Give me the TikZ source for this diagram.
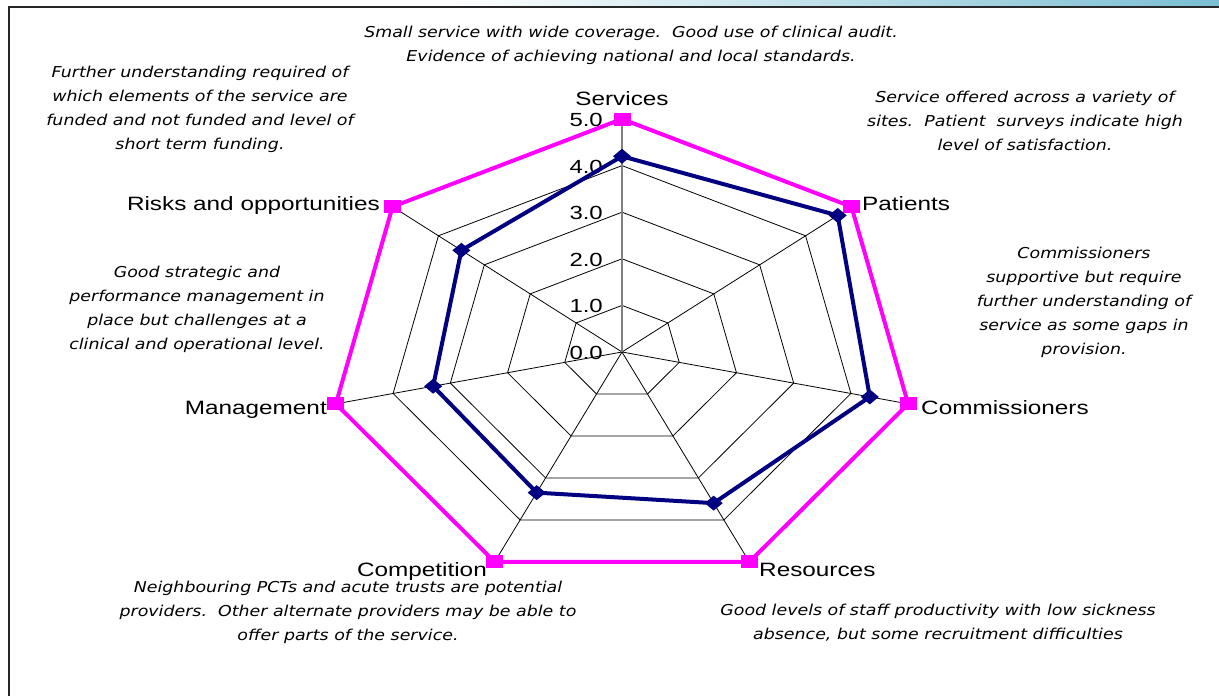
\documentclass[tikz,border=0pt]{standalone}
\usepackage{fontspec}
\newfontfamily\lab[FakeStretch=1.26]{Liberation Sans}
\newfontfamily\ann[FakeStretch=1.16]{DejaVu Sans}
\definecolor{pinkline}{RGB}{255,0,255}
\definecolor{navyline}{RGB}{0,0,128}
\definecolor{bandblue}{RGB}{122,190,210}
\begin{document}
\begin{tikzpicture}[x=1pt,y=-1pt,
  lab/.style={font=\lab\fontsize{19.3}{22}\selectfont, inner sep=0pt},
  num/.style={font=\lab\fontsize{19}{22}\selectfont, inner sep=0pt, anchor=east},
  note/.style={font=\ann\itshape\fontsize{15}{24}\selectfont, align=center, inner sep=0pt},
  gridline/.style={black, line width=0.8pt},
  pinkpoly/.style={pinkline, line width=4pt, line join=miter},
  bluepoly/.style={navyline, line width=4pt, line join=round}]
\useasboundingbox (0,0) rectangle (1219,696);
% top band and frame
\shade[left color=white, right color=bandblue] (450,0) rectangle (1219,6);
\draw[black!85, line width=2pt] (1219,7) -- (9,7) -- (9,696);
% chart geometry
\begin{scope}[shift={(622,352)}, x=58.7pt, y=46.6pt]
  \foreach \r in {1,...,4} {
    \draw[gridline] (90:\r) \foreach \k in {1,...,6} { -- ({90-\k*360/7}:\r) } -- cycle;
  }
  \foreach \k in {1,...,6} \draw[gridline] (0,0) -- ({90-\k*360/7}:5);
  \draw[gray, line width=1.5pt] (0,0) -- (90:5);
  \foreach \v [count=\k from 0] in {4.2,4.7,4.33,3.6,3.35,3.3,3.5}
    \coordinate (b\k) at ({90-\k*360/7}:\v);
  \foreach \k in {0,...,6} \coordinate (p\k) at ({90-\k*360/7}:5);
\end{scope}
% axis numbers
\foreach \v in {0,...,5} \node[num] (n\v) at (603, {352-\v*46.6+1}) {\v.0};
% series
\draw[pinkpoly] (p0) -- (p1) -- (p2) -- (p3) -- (p4) -- (p5) -- (p6) -- cycle;
\draw[bluepoly] (b0) -- (b1) -- (b2) -- (b3) -- (b4) -- (b5) -- (b6) -- cycle;
\foreach \k in {0,...,6} {
  \fill[pinkline, shift={(p\k)}] (-8.5,-6.5) rectangle (8.5,6.5);
  \fill[navyline, shift={(b\k)}] (-9,0) -- (0,-7.5) -- (9,0) -- (0,7.5) -- cycle;
}
% category labels
\node[lab, anchor=base] (services) at (622,105) {Services};
\node[lab, anchor=base west] (patients) at (862,210) {Patients};
\node[lab, anchor=base west] (comm) at (921,414) {Commissioners};
\node[lab, anchor=base west] (res) at (759,576) {Resources};
\node[lab, anchor=base east] (comp) at (487,576) {Competition};
\node[lab, anchor=base east] (mgmt) at (327,414) {Management};
\node[lab, anchor=base east] (risks) at (380,210) {Risks and opportunities};
% annotations
\node[note] (a1) at (631,45) {Small service with wide coverage.\ \ Good use of clinical audit.\\Evidence of achieving national and local standards.};
\node[note] (a2) at (200,109) {Further understanding required of\\which elements of the service are\\funded and not funded and level of\\short term funding.};
\node[note] (a3) at (1025,121) {Service offered across a variety of\\sites.\ \ Patient\ \ surveys indicate high\\level of satisfaction.};
\node[note] (a4) at (1084,302) {Commissioners\\supportive but require\\further understanding of\\service as some gaps in\\provision.};
\node[note] (a5) at (197,309.5) {Good strategic and\\performance management in\\place but challenges at a\\clinical and operational level.};
\node[note] (a6) at (348,612) {Neighbouring PCTs and acute trusts are potential\\providers.\ \ Other alternate providers may be able to\\offer parts of the service.};
\node[note] (a7) at (938,623) {Good levels of staff productivity with low sickness\\absence, but some recruitment difficulties};
\end{tikzpicture}
\end{document}
